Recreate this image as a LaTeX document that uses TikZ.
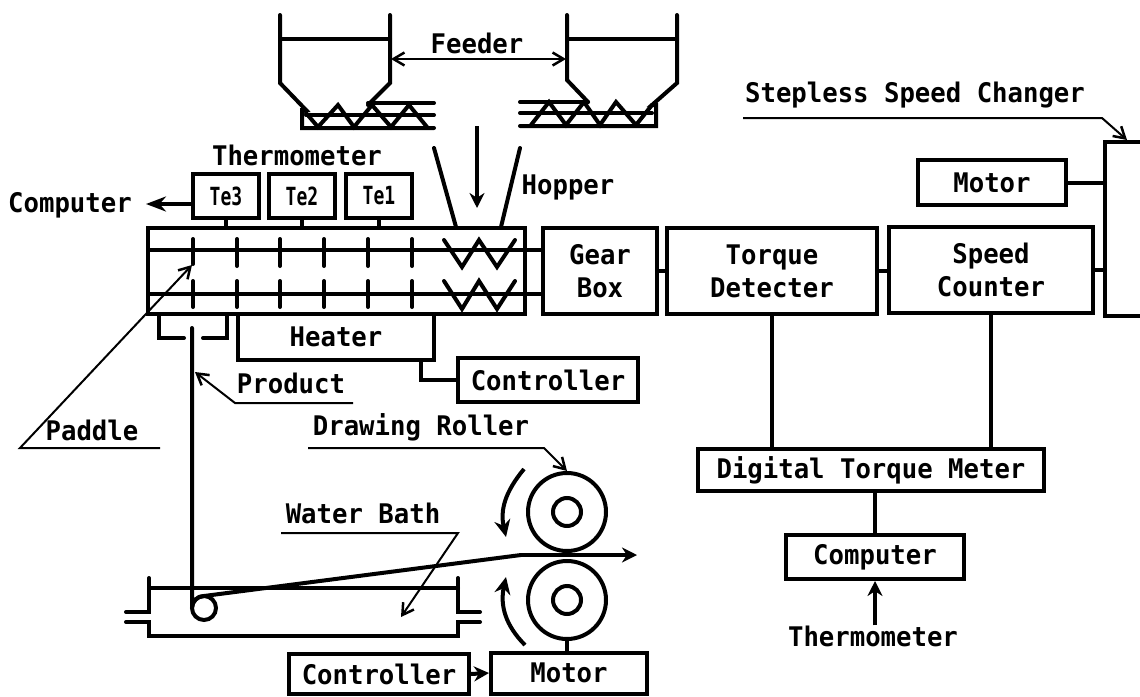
\documentclass[tikz,border=0pt]{standalone}
\usepackage{fontspec}
\usepackage{tikz}
\usetikzlibrary{arrows.meta, calc}
\newfontfamily\labfont[FakeStretch=0.95]{DejaVu Sans Mono}
\newfontfamily\tefont[FakeStretch=0.72]{DejaVu Sans Mono}

\begin{document}
\begin{tikzpicture}[
  x=1pt, y=-1pt,
  lab/.style={font=\labfont\bfseries\fontsize{27}{33}\selectfont, inner sep=0pt, align=center},
  box/.style={draw, line width=4pt, inner sep=0pt, align=center, font=\labfont\bfseries\fontsize{27}{33}\selectfont},
  tebox/.style={box, minimum width=66, minimum height=44, font=\tefont\bfseries\fontsize{25}{28}\selectfont},
  wheel/.style={circle, draw, line width=4pt, inner sep=0pt},
  wall/.style={line width=4pt, line cap=round},
  lead/.style={line width=2pt, -{Straight Barb[length=11pt,width=13pt,line width=2.5pt]}},
  fat/.style={line width=4pt, -{Stealth[length=15pt,width=15pt]}}
]
  \useasboundingbox (0,0) rectangle (1140,696);

  % feeders
  \draw[wall] (280,15) -- (280,83) -- (306,110) -- (302,110) -- (302,128) -- (434,128);
  \draw[wall] (390,15) -- (390,83) -- (368,105);
  \draw[wall] (280,39) -- (390,39);
  \draw[wall] (306,115) -- (434,115);
  \draw[wall] (368,103) -- (434,103);
  \draw[wall] (306,113) -- (318,127) -- (338,105) -- (354,127) -- (372,105) -- (391,127) -- (409,105) -- (427,127);
  \draw[wall] (567,15) -- (567,80) -- (588,102);
  \draw[wall] (677,15) -- (677,83) -- (652,105) -- (656,105) -- (656,126) -- (520,126);
  \draw[wall] (567,39) -- (677,39);
  \draw[wall] (520,113) -- (652,113);
  \draw[wall] (520,102) -- (588,102);
  \draw[wall] (531,125) -- (549,102) -- (566,125) -- (584,102) -- (600,125) -- (616,102) -- (636,125) -- (652,105);

  \node[lab] (feederlab) at (477,43) {Feeder};
  \coordinate (feedL) at (391,59);
  \coordinate (feedR) at (566,59);
  \draw[lead, {Straight Barb[length=11pt,width=13pt,line width=2.5pt]}-{Straight Barb[length=11pt,width=13pt,line width=2.5pt]}] (feedL) -- (feedR);

  % hopper
  \coordinate (drop0) at (477,126);
  \coordinate (drop1) at (477,208);
  \draw[fat] (drop0) -- (drop1);
  \draw[wall] (434,148) -- (456,227);
  \draw[wall] (520,148) -- (501,227);
  \node[lab] (hopperlab) at (568,187) {Hopper};

  % thermometers
  \node[lab] (thermlab) at (297,155) {Thermometer};
  \node[tebox] (te3) at (226,196) {Te3};
  \node[tebox] (te2) at (302,196) {Te2};
  \node[tebox] (te1) at (379,196) {Te1};
  \node[lab] (complab) at (70,205) {Computer};
  \coordinate (teout) at (193,204);
  \coordinate (compin) at (146,204);
  \draw[line width=4pt, -{Stealth[length=20pt,width=15pt]}] (teout) -- (compin);

  % barrel
  \node[box, minimum width=377, minimum height=86] (barrel) at (336.5,271) {};
  \draw[wall] (te3.south) -- (te3.south |- barrel.north);
  \draw[wall] (te2.south) -- (te2.south |- barrel.north);
  \draw[wall] (te1.south) -- (te1.south |- barrel.north);
  \node[box, minimum width=114, minimum height=86] (gear) at (600,271) {Gear\\Box};
  \draw[line width=4pt] (barrel.west |- 0,250) -- (gear.west |- 0,250);
  \draw[line width=4pt] (barrel.west |- 0,294) -- (gear.west |- 0,294);

  % paddles
  \draw[wall] (193,239) -- (193,264) (237,239) -- (237,266) (280,239) -- (280,266)
    (324,239) -- (324,266) (368,239) -- (368,266) (412,239) -- (412,266);
  \draw[wall] (193,281) -- (193,307) (237,281) -- (237,307) (280,281) -- (280,307)
    (324,281) -- (324,307) (368,281) -- (368,307) (412,281) -- (412,307);
  \draw[wall] (444,240) -- (462,267) -- (479,240) -- (497,267) -- (515,240);
  \draw[wall] (444,281) -- (462,309) -- (479,281) -- (497,309) -- (515,281);

  % die and heater
  \draw[wall] (159,314) -- (159,338) -- (184,338);
  \draw[wall] (203,338) -- (227,338) -- (227,314);
  \node[box, minimum width=196, minimum height=46] (heater) at (336,337) {Heater};
  \node[box, minimum width=180, minimum height=44] (ctrlA) at (548,380) {Controller};
  \coordinate (heatout) at (421,360);
  \draw[wall] (heatout) |- (ctrlA.west);

  % drive train
  \node[box, minimum width=210, minimum height=86] (torque) at (772,271) {Torque\\Detecter};
  \node[box, minimum width=204, minimum height=86] (speed) at (991,270) {Speed\\Counter};
  \node[box, minimum width=148, minimum height=45] (motorA) at (992,182.5) {Motor};
  \draw[wall] (gear.east) -- (torque.west);
  \draw[wall] (torque.east) -- (torque.east -| speed.west);
  \draw[wall] (1140,142) -- (1105,142) -- (1105,316) -- (1140,316);
  \coordinate (chgr) at (1105,229);
  \draw[wall] (speed.east) -- (speed.east -| chgr);
  \draw[wall] (motorA.east) -- (motorA.east -| chgr);
  \node[lab] (changerlab) at (915,95) {Stepless Speed Changer};
  \coordinate (chg0) at (743,118);
  \coordinate (chg1) at (1102,118);
  \coordinate (chg2) at (1127,140);
  \draw[lead] (chg0) -- (chg1) -- (chg2);

  % torque meter
  \node[box, minimum width=346, minimum height=42] (meter) at (871,470) {Digital Torque Meter};
  \node[box, minimum width=178, minimum height=44] (compB) at (875,557) {Computer};
  \node[lab] (thermB) at (873,636) {Thermometer};
  \draw[wall] (compB.north |- meter.south) -- (compB.north);
  \draw[wall] (torque.south) -- (torque.south |- meter.north);
  \draw[wall] (speed.south) -- (speed.south |- meter.north);
  \draw[fat] (thermB.north -| compB.south) -- (compB.south);

  % rollers
  \node[wheel, minimum size=78] (rollU) at (567,512) {};
  \node[wheel, minimum size=28] (rollUin) at (567,512) {};
  \node[wheel, minimum size=78] (rollL) at (567,600) {};
  \node[wheel, minimum size=28] (rollLin) at (567,600) {};
  \node[box, minimum width=156, minimum height=41] (motorB) at (569,673) {Motor};
  \node[box, minimum width=180, minimum height=40] (ctrlB) at (379,674) {Controller};
  \draw[wall] (rollL.south) -- (rollL.south |- motorB.north);
  \draw[fat] (ctrlB.east) -- (motorB.west);
  \draw[line width=4pt, -{Stealth[length=17pt,width=16pt]}] (524,469) .. controls (505,492) and (500,510) .. (506,537);
  \draw[line width=4pt, -{Stealth[length=17pt,width=16pt]}] (525,645) .. controls (505,625) and (500,605) .. (506,577);
  \node[lab] (rollerlab) at (421,427) {Drawing Roller};
  \coordinate (rl0) at (308,448);
  \coordinate (rl1) at (544,448);
  \draw[lead] (rl0) -- (rl1) -- (rollU.north);

  % water bath
  \draw[wall] (149,578) -- (149,612) -- (126,612);
  \draw[wall] (126,622) -- (149,622) -- (149,636) -- (458,636) -- (458,622) -- (480,622);
  \draw[wall] (458,578) -- (458,612) -- (480,612);
  \draw[wall] (149,588) -- (458,588);
  \node[lab] (bathlab) at (363,513) {Water Bath};
  \coordinate (wb0) at (281,533);
  \coordinate (wb1) at (458,533);
  \coordinate (wb2) at (401,617);
  \draw[lead] (wb0) -- (wb1) -- (wb2);

  % product
  \node[wheel, minimum size=24] (guide) at (204,608) {};
  \coordinate (prod0) at (192,328);
  \coordinate (prod1) at (521,555);
  \coordinate (prod2) at (637,555);
  \draw[wall] (prod0) -- (192,608) arc[start angle=180, end angle=270, radius=12] -- (prod1);
  \draw[fat] (prod1) -- (prod2);
  \node[lab] (productlab) at (291,383) {Product};
  \coordinate (pr0) at (353,403);
  \coordinate (pr1) at (235,403);
  \coordinate (pr2) at (195,372);
  \draw[lead] (pr0) -- (pr1) -- (pr2);

  % paddle label
  \node[lab] (paddlelab) at (92,430) {Paddle};
  \coordinate (pa0) at (160,448);
  \coordinate (pa1) at (20,448);
  \coordinate (pa2) at (192,265);
  \draw[lead] (pa0) -- (pa1) -- (pa2);
\end{tikzpicture}
\end{document}
